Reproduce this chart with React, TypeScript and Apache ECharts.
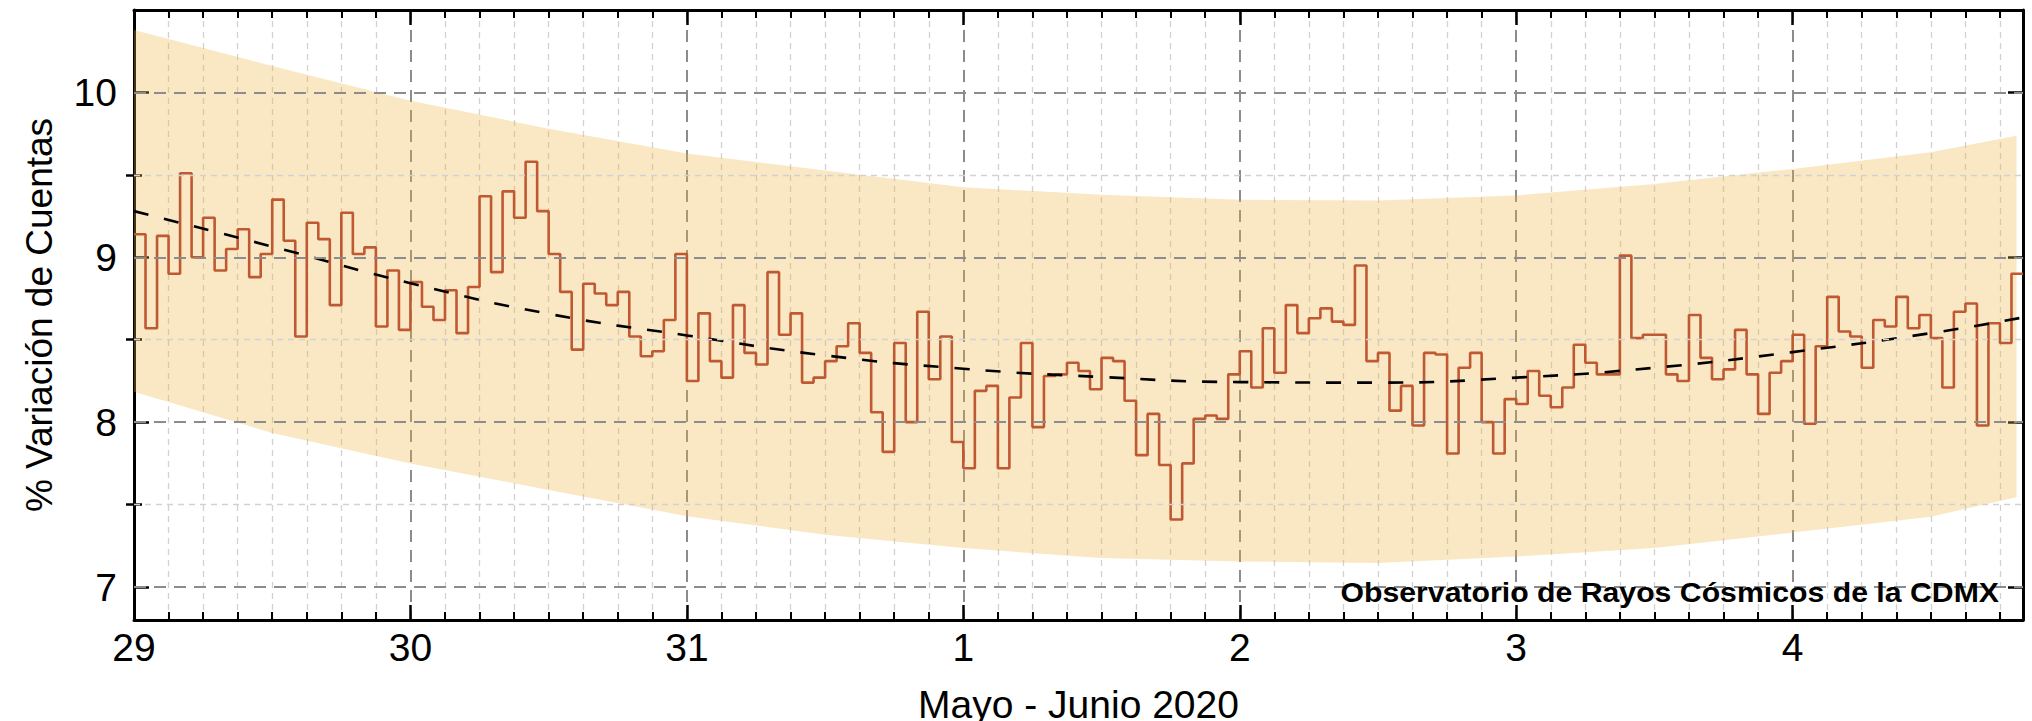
import React, { useEffect, useRef } from 'react';
import * as echarts from 'echarts';

// Day labels on the x axis (29 May .. 4 June 2020)
const dayLabels = ['29', '30', '31', '1', '2', '3', '4'];

// Hourly % count variation, starting 29 May 00:00
const hourlyValues = [
  9.14, 8.57, 9.13, 8.90, 9.51, 9.00, 9.24, 8.92, 9.05, 9.17, 8.88, 9.02,
  9.35, 9.10, 8.52, 9.21, 9.11, 8.71, 9.27, 9.02, 9.06, 8.58, 8.92, 8.56,
  8.85, 8.70, 8.62, 8.80, 8.54, 8.82, 9.37, 8.91, 9.40, 9.24, 9.58, 9.28,
  9.02, 8.79, 8.44, 8.84, 8.78, 8.71, 8.79, 8.52, 8.40, 8.43, 8.62, 9.02,
  8.25, 8.66, 8.37, 8.27, 8.71, 8.42, 8.35, 8.91, 8.53, 8.66, 8.24, 8.27,
  8.37, 8.46, 8.60, 8.42, 8.06, 7.82, 8.48, 8.00, 8.67, 8.26, 8.52, 7.88,
  7.72, 8.19, 8.22, 7.72, 8.15, 8.48, 7.97, 8.28, 8.29, 8.36, 8.31, 8.20,
  8.39, 8.37, 8.13, 7.80, 8.05, 7.74, 7.41, 7.75, 8.02, 8.04, 8.02, 8.29,
  8.43, 8.21, 8.57, 8.30, 8.71, 8.54, 8.63, 8.69, 8.61, 8.59, 8.95, 8.37,
  8.42, 8.07, 8.22, 7.98, 8.42, 8.41, 7.81, 8.33, 8.42, 8.00, 7.81, 8.14,
  8.11, 8.31, 8.16, 8.09, 8.21, 8.47, 8.36, 8.29, 8.29, 9.01, 8.51, 8.53,
  8.53, 8.29, 8.25, 8.65, 8.39, 8.26, 8.32, 8.56, 8.29, 8.05, 8.30, 8.37,
  8.53, 7.99, 8.46, 8.76, 8.55, 8.52, 8.33, 8.62, 8.58, 8.76, 8.57, 8.65,
  8.51, 8.21, 8.67, 8.72, 7.98, 8.60, 8.48, 8.90,
];

// Positions (in days since 29 May 00:00) where the fit and band were read
const curveDays = [0, 0.5, 1, 1.5, 2, 2.5, 3, 3.5, 4, 4.5, 5, 5.5, 6, 6.5, 6.81];
const fitDays = [0, 0.5, 1, 1.5, 2, 2.5, 3, 3.5, 4, 4.5, 5, 5.5, 6, 6.5, 6.833];
const fitValues = [9.28, 9.065, 8.843, 8.657, 8.526, 8.405, 8.324, 8.274, 8.243, 8.24, 8.27, 8.33, 8.425, 8.54, 8.635];
const bandUpper = [10.378, 10.16, 9.95, 9.78, 9.63, 9.526, 9.425, 9.379, 9.349, 9.345, 9.375, 9.445, 9.536, 9.637, 9.738];
const bandLower = [8.184, 7.935, 7.75, 7.589, 7.43, 7.317, 7.236, 7.176, 7.155, 7.145, 7.185, 7.236, 7.33, 7.427, 7.545];

const yMajorTicks = [7, 8, 9, 10];
const yMinorTicks = [7.5, 8.5, 9.5];
const TOTAL_HOURS = 164;

const FONT = "'Liberation Sans', Arial, Helvetica, sans-serif";

export default function App() {
  const ref = useRef<HTMLDivElement>(null);

  useEffect(() => {
    if (!ref.current) return;
    const chart = echarts.init(ref.current, null, { renderer: 'svg' });

    const xMax = TOTAL_HOURS / 24;
    const stepData: number[][] = hourlyValues.map((v, i) => [i / 24, v]);
    stepData.push([xMax, hourlyValues[hourlyValues.length - 1]]);

    const majorGrid = { color: '#8c8c8c', width: 2, type: [12, 8] as number[] };
    const minorGrid = { color: '#d2d2d2', width: 1.3, type: [6, 5] as number[] };
    const axisLine = { show: true, onZero: false, lineStyle: { color: '#000', width: 3 } };

    const yBase: any = {
      type: 'value',
      min: 6.8,
      max: 10.5,
      splitLine: { show: false },
      minorSplitLine: { show: false },
    };

    const option: any = {
      animation: false,
      backgroundColor: '#fff',
      grid: { left: 134, right: 9, top: 10, bottom: 101, containLabel: false, outerBoundsMode: 'none' },
      xAxis: [
        {
          type: 'value',
          min: 0,
          max: xMax,
          interval: 1,
          position: 'bottom',
          axisLine,
          axisTick: { show: true, inside: true, length: 15, lineStyle: { color: '#000', width: 2.5 } },
          minorTick: { show: true, splitNumber: 8, length: 8, lineStyle: { color: '#000', width: 2 } },
          axisLabel: {
            fontSize: 39,
            color: '#000',
            fontFamily: FONT,
            margin: 8,
            formatter: (v: number) => {
              const r = Math.round(v);
              return Math.abs(v - r) < 1e-6 && dayLabels[r] !== undefined ? dayLabels[r] : '';
            },
          },
          splitLine: { show: true, lineStyle: majorGrid },
          minorSplitLine: { show: true, lineStyle: minorGrid },
          name: 'Mayo - Junio 2020',
          nameLocation: 'middle',
          nameGap: 65,
          nameTextStyle: { fontSize: 39, color: '#000', fontFamily: FONT },
        },
        {
          type: 'value',
          min: 0,
          max: xMax,
          interval: 1,
          position: 'top',
          axisLine,
          axisTick: { show: true, inside: true, length: 15, lineStyle: { color: '#000', width: 2.5 } },
          minorTick: { show: true, splitNumber: 8, length: 8, lineStyle: { color: '#000', width: 2 } },
          axisLabel: { show: false },
          splitLine: { show: false },
        },
      ],
      yAxis: [
        {
          ...yBase,
          position: 'left',
          axisLine,
          axisTick: { show: true, inside: true, length: 15, customValues: yMajorTicks, lineStyle: { color: '#000', width: 2.5 } },
          axisLabel: { show: true, customValues: yMajorTicks, fontSize: 39, color: '#000', fontFamily: FONT, margin: 17 },
          name: '% Variación de Cuentas',
          nameLocation: 'middle',
          nameGap: 76,
          nameRotate: 90,
          nameTextStyle: { fontSize: 37, color: '#000', fontFamily: FONT },
        },
        {
          ...yBase,
          position: 'left',
          axisLine: { show: false },
          axisTick: { show: true, inside: true, length: 8, customValues: yMinorTicks, lineStyle: { color: '#000', width: 2.5 } },
          axisLabel: { show: false },
        },
        {
          ...yBase,
          position: 'right',
          axisLine,
          axisTick: { show: true, inside: true, length: 15, customValues: yMajorTicks, lineStyle: { color: '#000', width: 2.5 } },
          axisLabel: { show: false },
        },
        {
          ...yBase,
          position: 'right',
          axisLine: { show: false },
          axisTick: { show: true, inside: true, length: 8, customValues: yMinorTicks, lineStyle: { color: '#000', width: 2.5 } },
          axisLabel: { show: false },
        },
      ],
      series: [
        {
          name: 'ygrid',
          type: 'line',
          z: 1,
          data: [[0, 8]],
          symbol: 'none',
          lineStyle: { width: 0 },
          silent: true,
          markLine: {
            silent: true,
            symbol: ['none', 'none'],
            label: { show: false },
            animation: false,
            data: [
              ...yMinorTicks.map((v) => ({ yAxis: v, lineStyle: minorGrid })),
              ...yMajorTicks.map((v) => ({ yAxis: v, lineStyle: majorGrid })),
            ],
          },
        },
        {
          name: 'banda',
          type: 'custom',
          z: 2,
          silent: true,
          xAxisIndex: 0,
          yAxisIndex: 0,
          data: [[0, 0]],
          renderItem: (_params: any, api: any) => {
            const pts: number[][] = [];
            for (let i = 0; i < curveDays.length; i++) {
              pts.push(api.coord([curveDays[i], bandUpper[i]]));
            }
            for (let i = curveDays.length - 1; i >= 0; i--) {
              pts.push(api.coord([curveDays[i], bandLower[i]]));
            }
            return {
              type: 'polygon',
              shape: { points: pts },
              style: { fill: 'rgba(237,176,60,0.3)', stroke: 'none' },
            };
          },
        },
        {
          name: 'variacion',
          type: 'line',
          z: 3,
          step: 'end',
          symbol: 'none',
          lineStyle: { color: '#BE5932', width: 2.6 },
          data: stepData,
        },
        {
          name: 'ajuste',
          type: 'line',
          z: 4,
          smooth: true,
          symbol: 'none',
          lineStyle: { color: '#000', width: 2.6, type: [15, 16] },
          data: fitDays.map((d, i) => [d, fitValues[i]]),
        },
      ],
      graphic: [
        {
          type: 'text',
          x: 1999,
          y: 593,
          scaleX: 1.12,
          z: 100,
          style: {
            text: 'Observatorio de Rayos Cósmicos de la CDMX',
            fontSize: 27,
            fontWeight: 'bold',
            fontFamily: FONT,
            fill: '#000',
            align: 'right',
            verticalAlign: 'middle',
          },
        },
      ],
    };

    chart.setOption(option);
    return () => chart.dispose();
  }, []);

  return (
    <div
      ref={ref}
      style={{ position: 'fixed', left: 0, top: 0, width: 2032, height: 721, background: '#fff' }}
    />
  );
}
